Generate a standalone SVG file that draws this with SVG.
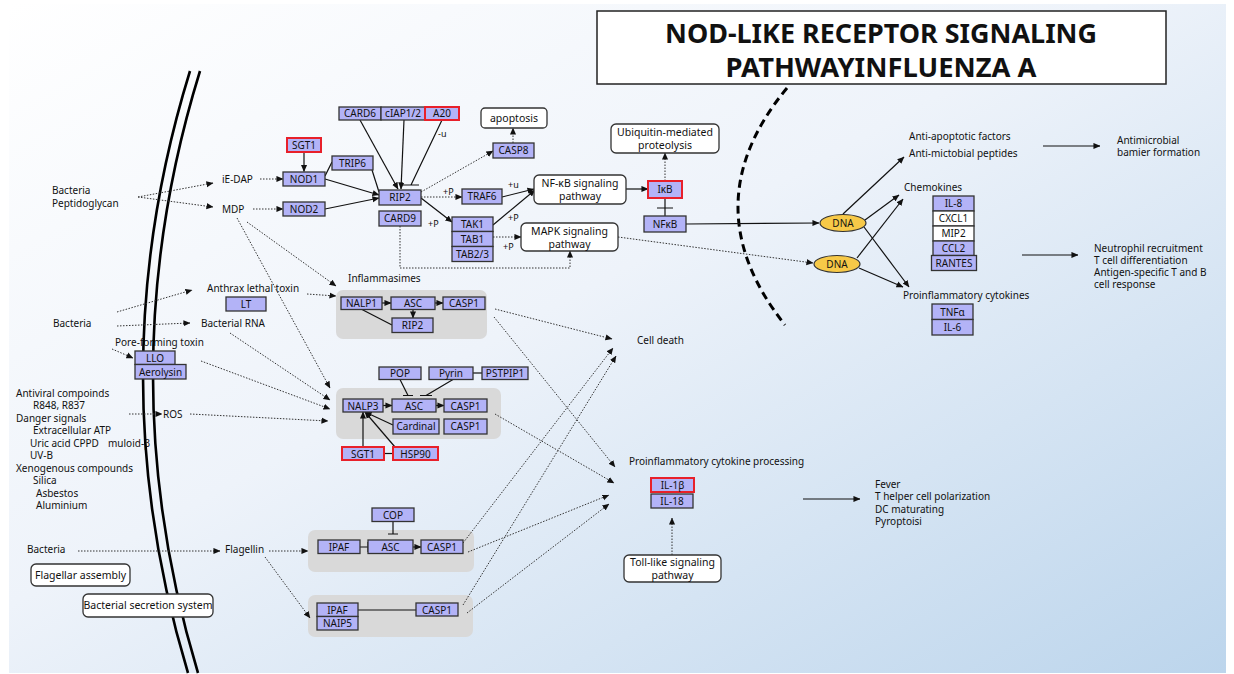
<svg xmlns="http://www.w3.org/2000/svg" width="1234" height="674" viewBox="0 0 1234 674">
<defs>
<linearGradient id="bg" x1="0" y1="0" x2="1" y2="1">
<stop offset="0" stop-color="#ffffff"/>
<stop offset="0.45" stop-color="#eef3fa"/>
<stop offset="1" stop-color="#bcd5ec"/>
</linearGradient>
<marker id="a" viewBox="0 0 8 8" refX="7.5" refY="4" markerWidth="7" markerHeight="7" markerUnits="userSpaceOnUse" orient="auto">
<path d="M0,0.5 L8,4 L0,7.5 z" fill="#111"/>
</marker>
<style>
text{font-family:"Noto Sans","Liberation Sans",sans-serif;fill:#111}
.lb{font-size:10px}
.sm{font-size:9px}
.gt{font-size:10px;text-anchor:middle}
.bt{font-size:10.5px;text-anchor:middle}
.g rect{fill:#b3b3f7;stroke:#333;stroke-width:1.3}
.w rect{fill:#ffffff;stroke:#333;stroke-width:1.3}
.r rect{fill:#b3b3f7;stroke:#e8202a;stroke-width:2}
.rb rect{fill:#ffffff;stroke:#333;stroke-width:1.3}
.grp{fill:#d9d9d9;stroke:none}
.s{fill:none;stroke:#111;stroke-width:1.2}
.d{fill:none;stroke:#333;stroke-width:1;stroke-dasharray:1.5 1.5}
.mem{fill:none;stroke:#000;stroke-width:2.6}
</style>
</defs>
<rect x="9" y="4" width="1217" height="669" fill="url(#bg)"/>

<g id="left-texts">
<text class="lb" x="52" y="194">Bacteria</text>
<text class="lb" x="52" y="207">Peptidoglycan</text>
<text class="lb" x="222" y="183">iE-DAP</text>
<text class="lb" x="222" y="213">MDP</text>
<text class="lb" x="207" y="292">Anthrax lethal toxin</text>
<text class="lb" x="53" y="327">Bacteria</text>
<text class="lb" x="201" y="327">Bacterial RNA</text>
<text class="lb" x="115" y="346">Pore-forming toxin</text>
<text class="lb" x="16" y="397">Antiviral compoinds</text>
<text class="lb" x="33" y="409">R848, R837</text>
<text class="lb" x="16" y="422">Danger signals</text>
<text class="lb" x="33" y="434">Extracellular ATP</text>
<text class="lb" x="30" y="447">Uric acid CPPD</text>
<text class="lb" x="108" y="447">muloid-β</text>
<text class="lb" x="30" y="459">UV-B</text>
<text class="lb" x="16" y="472">Xenogenous compounds</text>
<text class="lb" x="33" y="484">Silica</text>
<text class="lb" x="36" y="497">Asbestos</text>
<text class="lb" x="36" y="509">Aluminium</text>
<text class="lb" x="163" y="418">ROS</text>
<text class="lb" x="27" y="553">Bacteria</text>
<text class="lb" x="225" y="553">Flagellin</text>
<text class="lb" x="348" y="282">Inflammasimes</text>
</g>

<g id="membrane">
<path class="mem" d="M190,71 Q97,372 188,673"/>
<path class="mem" d="M200,71 Q107,372 198,673"/>
</g>
<path id="nucleus" d="M787,88 Q690,205 785,325" fill="none" stroke="#000" stroke-width="3" stroke-dasharray="8 5"/>

<g id="title">
<rect x="597" y="11" width="569" height="73" fill="#fff" stroke="#222" stroke-width="1.5"/>
<text x="881" y="43" font-size="27" font-weight="bold" text-anchor="middle" textLength="432" lengthAdjust="spacingAndGlyphs">NOD-LIKE RECEPTOR SIGNALING</text>
<text x="881" y="77" font-size="27" font-weight="bold" text-anchor="middle" textLength="311" lengthAdjust="spacingAndGlyphs">PATHWAYINFLUENZA A</text>
</g>

<g id="groups">
<rect id="inflammasome1" class="grp" x="336" y="290" width="151" height="49" rx="7"/>
<rect id="inflammasome2" class="grp" x="336" y="388" width="165" height="51" rx="7"/>
<rect id="inflammasome3" class="grp" x="308" y="530" width="166" height="42" rx="7"/>
<rect id="inflammasome4" class="grp" x="308" y="595" width="165" height="42" rx="7"/>
</g>

<g id="connectors">
<path class="s" d="M304,152 V171.5" marker-end="url(#a)"/>
<path class="s" d="M325,176 L332,162"/>
<path class="s" d="M372,170 L379,192"/>
<path class="s" d="M325,179 L379,195" marker-end="url(#a)"/>
<path class="s" d="M325,209 L379,198" marker-end="url(#a)"/>
<path class="s" d="M360,120 L398,189" marker-end="url(#a)"/>
<path class="s" d="M404,120 L401,189" marker-end="url(#a)"/>
<path class="s" d="M442,120 L411,185 M403,185 H419"/>
<path class="s" d="M421,198 L452,222" marker-end="url(#a)"/>
<path class="s" d="M502,197 L534,189" marker-end="url(#a)"/>
<path class="s" d="M493,225 L535,190" marker-end="url(#a)"/>
<path class="s" d="M626,189 L648,189" marker-end="url(#a)"/>
<path class="s" d="M665,198 V216 M657,208 H673"/>
<path class="s" d="M686,224 L819,223" marker-end="url(#a)"/>
<path class="s" d="M843,214 L904,157" marker-end="url(#a)"/>
<path class="s" d="M865,220 L899,195" marker-end="url(#a)"/>
<path class="s" d="M864,227 L909,287" marker-end="url(#a)"/>
<path class="s" d="M857,258 L903,199" marker-end="url(#a)"/>
<path class="s" d="M859,268 L903,287" marker-end="url(#a)"/>
<path class="s" d="M1043,146 L1100,146" marker-end="url(#a)"/>
<path class="s" d="M1022,255 L1078,255" marker-end="url(#a)"/>
<path class="s" d="M803,499 L860,499" marker-end="url(#a)"/>
<path class="s" d="M382,303 L391,303" marker-end="url(#a)"/>
<path class="s" d="M435,303 L443,303" marker-end="url(#a)"/>
<path class="s" d="M413,309.5 V318" marker-end="url(#a)"/>
<path class="s" d="M362,309.5 L392,325"/>
<path class="s" d="M400,379.5 L408,395.5 M403,395.5 H413"/>
<path class="s" d="M453,379.5 L426,395.5 M420,395.5 H432"/>
<path class="s" d="M473,373 H482"/>
<path class="s" d="M383,405.5 H392" marker-end="url(#a)"/>
<path class="s" d="M436,405.5 H444" marker-end="url(#a)"/>
<path class="s" d="M363,447 V412" marker-end="url(#a)"/>
<path class="s" d="M395,447 L365,412" marker-end="url(#a)"/>
<path class="s" d="M393,425 L365,412" marker-end="url(#a)"/>
<path class="s" d="M384,453.5 H393"/>
<path class="s" d="M393,521.5 V534 M388,534 H398"/>
<path class="s" d="M360,547 H368 M368,542 V552"/>
<path class="s" d="M413,547 H421" marker-end="url(#a)"/>
<path class="s" d="M358,610 H416"/>

<path class="d" d="M138,197 L213,183" marker-end="url(#a)"/>
<path class="d" d="M138,197 L213,207" marker-end="url(#a)"/>
<path class="d" d="M260,179 L283,179" marker-end="url(#a)"/>
<path class="d" d="M253,209 L283,209" marker-end="url(#a)"/>
<path class="d" d="M247,222 L336,286" marker-end="url(#a)"/>
<path class="d" d="M237,218 L330,388" marker-end="url(#a)"/>
<path class="d" d="M421,192 L493,151" marker-end="url(#a)"/>
<path class="d" d="M421,197 L462,197" marker-end="url(#a)"/>
<path class="d" d="M513,143 V128" marker-end="url(#a)"/>
<path class="d" d="M493,237 L521,237" marker-end="url(#a)"/>
<path class="d" d="M400,226 V268 H570 V251" marker-end="url(#a)"/>
<path class="d" d="M665,181 V153" marker-end="url(#a)"/>
<path class="d" d="M618,237 L813,263" marker-end="url(#a)"/>
<path class="d" d="M117,312 L192,290" marker-end="url(#a)"/>
<path class="d" d="M117,326 L190,323" marker-end="url(#a)"/>
<path class="d" d="M307,294 L336,296" marker-end="url(#a)"/>
<path class="d" d="M230,333 L330,400" marker-end="url(#a)"/>
<path class="d" d="M112,349 L133,358" marker-end="url(#a)"/>
<path class="d" d="M201,361 L330,409" marker-end="url(#a)"/>
<path class="d" d="M129,414 L162,414" marker-end="url(#a)"/>
<path class="d" d="M190,414 L328,421" marker-end="url(#a)"/>
<path class="d" d="M495,309 L612,339" marker-end="url(#a)"/>
<path class="d" d="M494,317 L615,467" marker-end="url(#a)"/>
<path class="d" d="M495,414 L614,483" marker-end="url(#a)"/>
<path class="d" d="M463,543 L613,348" marker-end="url(#a)"/>
<path class="d" d="M468,552 L609,495" marker-end="url(#a)"/>
<path class="d" d="M463,605 L616,356" marker-end="url(#a)"/>
<path class="d" d="M467,613 L609,504" marker-end="url(#a)"/>
<path class="d" d="M78,551 L220,551" marker-end="url(#a)"/>
<path class="d" d="M269,551 L308,551" marker-end="url(#a)"/>
<path class="d" d="M265,557 L310,618" marker-end="url(#a)"/>
<path class="d" d="M672,555 V518" marker-end="url(#a)"/>
<text class="sm" x="443" y="195">+P</text>
<text class="sm" x="428" y="227">+P</text>
<text class="sm" x="508" y="188">+u</text>
<text class="sm" x="508" y="221">+P</text>
<text class="sm" x="503" y="250">+P</text>
<text class="sm" x="438" y="137">-u</text>
</g>

<g id="n-card6" class="g"><rect x="339" y="107" width="42" height="13"/><text class="gt" x="360" y="117">CARD6</text></g>
<g id="n-ciap" class="g"><rect x="381" y="107" width="44" height="13"/><text class="gt" x="403" y="117">cIAP1/2</text></g>
<g id="n-a20" class="r"><rect x="425" y="107" width="34" height="13"/><text class="gt" x="442" y="117">A20</text></g>
<g id="n-sgt1a" class="r"><rect x="287" y="138" width="34" height="14"/><text class="gt" x="304" y="148.5">SGT1</text></g>
<g id="n-trip6" class="g"><rect x="332" y="156" width="41" height="14"/><text class="gt" x="352.5" y="166.5">TRIP6</text></g>
<g id="n-nod1" class="g"><rect x="283" y="172" width="42" height="14"/><text class="gt" x="304" y="182.5">NOD1</text></g>
<g id="n-nod2" class="g"><rect x="283" y="202" width="42" height="14"/><text class="gt" x="304" y="212.5">NOD2</text></g>
<g id="n-rip2" class="g"><rect x="379" y="190" width="42" height="15"/><text class="gt" x="400" y="201">RIP2</text></g>
<g id="n-card9" class="g"><rect x="379" y="211" width="42" height="15"/><text class="gt" x="400" y="222">CARD9</text></g>
<g id="n-apoptosis" class="rb"><rect x="481" y="108" width="66" height="20" rx="4"/><text class="bt" x="514" y="122">apoptosis</text></g>
<g id="n-casp8" class="g"><rect x="493" y="143" width="41" height="15"/><text class="gt" x="513.5" y="154">CASP8</text></g>
<g id="n-traf6" class="g"><rect x="462" y="189" width="40" height="15"/><text class="gt" x="482" y="200">TRAF6</text></g>
<g id="n-nfkbpath" class="rb"><rect x="534" y="175" width="92" height="29" rx="5"/><text class="bt" x="580" y="187">NF-κB signaling</text><text class="bt" x="580" y="199.5">pathway</text></g>
<g id="n-tak" class="g"><rect x="452" y="217" width="41" height="14.5"/><text class="gt" x="472.5" y="228">TAK1</text><rect x="452" y="231.5" width="41" height="15"/><text class="gt" x="472.5" y="242.5">TAB1</text><rect x="452" y="246.5" width="41" height="15"/><text class="gt" x="472.5" y="257.5">TAB2/3</text></g>
<g id="n-mapk" class="rb"><rect x="521" y="223" width="97" height="28" rx="5"/><text class="bt" x="569.5" y="235">MAPK signaling</text><text class="bt" x="569.5" y="247.5">pathway</text></g>
<g id="n-ubiq" class="rb"><rect x="611" y="124" width="108" height="29" rx="5"/><text class="bt" x="665" y="136">Ubiquitin-mediated</text><text class="bt" x="665" y="148.5">proteolysis</text></g>
<g id="n-ikb" class="r"><rect x="648" y="181" width="34" height="17"/><text class="gt" x="665" y="193">IκB</text></g>
<g id="n-nfkb" class="g"><rect x="644" y="216" width="42" height="16"/><text class="gt" x="665" y="227.5">NFκB</text></g>
<g id="n-dna1"><ellipse cx="843" cy="223" rx="23" ry="8.5" fill="#f7c948" stroke="#333" stroke-width="1.2"/><text class="gt" x="843" y="226.5">DNA</text></g>
<g id="n-dna2"><ellipse cx="837" cy="264" rx="23" ry="8.5" fill="#f7c948" stroke="#333" stroke-width="1.2"/><text class="gt" x="837" y="267.5">DNA</text></g>

<g id="n-right-texts">
<text class="lb" x="909" y="140">Anti-apoptotic factors</text>
<text class="lb" x="909" y="157">Anti-mictobial peptides</text>
<text class="lb" x="1117" y="144">Antimicrobial</text>
<text class="lb" x="1117" y="156">bamier formation</text>
<text class="lb" x="904" y="191">Chemokines</text>
<text class="lb" x="1094" y="252">Neutrophil recruitment</text>
<text class="lb" x="1094" y="264">T cell differentiation</text>
<text class="lb" x="1094" y="276">Antigen-specific T and B</text>
<text class="lb" x="1094" y="288">cell response</text>
<text class="lb" x="903" y="299">Proinflammatory cytokines</text>
<text class="lb" x="637" y="344">Cell death</text>
<text class="lb" x="629" y="465">Proinflammatory cytokine processing</text>
<text class="lb" x="875" y="488">Fever</text>
<text class="lb" x="875" y="500">T helper cell polarization</text>
<text class="lb" x="875" y="513">DC maturating</text>
<text class="lb" x="875" y="525">Pyroptoisi</text>
</g>

<g id="n-chemokines"><g class="g"><rect x="933" y="196" width="41" height="15"/><text class="gt" x="953.5" y="207">IL-8</text></g><g class="w"><rect x="933" y="211" width="41" height="15"/><text class="gt" x="953.5" y="222">CXCL1</text><rect x="933" y="226" width="41" height="15"/><text class="gt" x="953.5" y="237">MIP2</text></g><g class="g"><rect x="933" y="241" width="41" height="14.5"/><text class="gt" x="953.5" y="252">CCL2</text><rect x="931.5" y="255.5" width="45" height="15"/><text class="gt" x="954" y="266.5">RANTES</text></g></g>
<g id="n-cytokines" class="g"><rect x="932" y="304" width="41" height="15.5"/><text class="gt" x="952.5" y="315.5">TNFα</text><rect x="932" y="319.5" width="41" height="15.5"/><text class="gt" x="952.5" y="331">IL-6</text></g>

<g id="n-lt" class="g"><rect x="226" y="297" width="40" height="14"/><text class="gt" x="246" y="307.5">LT</text></g>
<g id="n-llo" class="g"><rect x="135" y="351" width="40" height="13.5"/><text class="gt" x="155" y="361.5">LLO</text><rect x="135" y="364.5" width="51" height="14.5"/><text class="gt" x="160.5" y="375.5">Aerolysin</text></g>

<g id="n-nalp1" class="g"><rect x="341" y="297" width="41" height="12.5"/><text class="gt" x="361.5" y="307">NALP1</text></g>
<g id="n-asc1" class="g"><rect x="391" y="297" width="44" height="12.5"/><text class="gt" x="413" y="307">ASC</text></g>
<g id="n-casp1a" class="g"><rect x="443" y="297" width="42" height="12.5"/><text class="gt" x="464" y="307">CASP1</text></g>
<g id="n-rip2b" class="g"><rect x="392" y="318" width="41" height="14.5"/><text class="gt" x="412.5" y="329">RIP2</text></g>

<g id="n-pop" class="g"><rect x="379" y="367" width="42" height="12.5"/><text class="gt" x="400" y="377">POP</text></g>
<g id="n-pyrin" class="g"><rect x="429" y="367" width="44" height="12.5"/><text class="gt" x="451" y="377">Pyrin</text></g>
<g id="n-pstpip1" class="g"><rect x="482" y="367" width="46" height="12.5"/><text class="gt" x="505" y="377">PSTPIP1</text></g>
<g id="n-nalp3" class="g"><rect x="343" y="399" width="40" height="13"/><text class="gt" x="363" y="409.5">NALP3</text></g>
<g id="n-asc2" class="g"><rect x="392" y="399" width="44" height="13"/><text class="gt" x="414" y="409.5">ASC</text></g>
<g id="n-casp1b" class="g"><rect x="444" y="399" width="43" height="13"/><text class="gt" x="465.5" y="409.5">CASP1</text></g>
<g id="n-cardinal" class="g"><rect x="393" y="419" width="46" height="15"/><text class="gt" x="416" y="430">Cardinal</text></g>
<g id="n-casp1c" class="g"><rect x="444" y="419" width="43" height="15"/><text class="gt" x="465.5" y="430">CASP1</text></g>
<g id="n-sgt1b" class="r"><rect x="342" y="447" width="42" height="13"/><text class="gt" x="363" y="457.5">SGT1</text></g>
<g id="n-hsp90" class="r"><rect x="393" y="447" width="45" height="13"/><text class="gt" x="415.5" y="457.5">HSP90</text></g>

<g id="n-cop" class="g"><rect x="372" y="508" width="42" height="13.5"/><text class="gt" x="393" y="518.5">COP</text></g>
<g id="n-ipaf1" class="g"><rect x="318" y="540" width="42" height="13.5"/><text class="gt" x="339" y="550.5">IPAF</text></g>
<g id="n-asc3" class="g"><rect x="368" y="540" width="45" height="13.5"/><text class="gt" x="390.5" y="550.5">ASC</text></g>
<g id="n-casp1d" class="g"><rect x="421" y="540" width="42" height="13.5"/><text class="gt" x="442" y="550.5">CASP1</text></g>
<g id="n-ipaf2" class="g"><rect x="317" y="603" width="41" height="13.5"/><text class="gt" x="337.5" y="613.5">IPAF</text><rect x="317" y="616.5" width="41" height="13.5"/><text class="gt" x="337.5" y="627">NAIP5</text></g>
<g id="n-casp1e" class="g"><rect x="416" y="603" width="42" height="13"/><text class="gt" x="437" y="613.5">CASP1</text></g>

<g id="n-il1b" class="r"><rect x="651" y="478" width="43" height="14"/><text class="gt" x="672.5" y="488.5">IL-1β</text></g>
<g id="n-il18" class="g"><rect x="651" y="494" width="42" height="14"/><text class="gt" x="672" y="504.5">IL-18</text></g>
<g id="n-toll" class="rb"><rect x="624" y="555" width="97" height="27" rx="5"/><text class="bt" x="672.5" y="566">Toll-like signaling</text><text class="bt" x="672.5" y="578.5">pathway</text></g>
<g id="n-flagellar" class="rb"><rect x="31" y="564" width="99" height="22" rx="5"/><text class="bt" x="80.5" y="578.5">Flagellar assembly</text></g>
<g id="n-secretion" class="rb"><rect x="83" y="594" width="130" height="23" rx="5"/><text class="bt" x="148" y="609">Bacterial secretion system</text></g>
</svg>
